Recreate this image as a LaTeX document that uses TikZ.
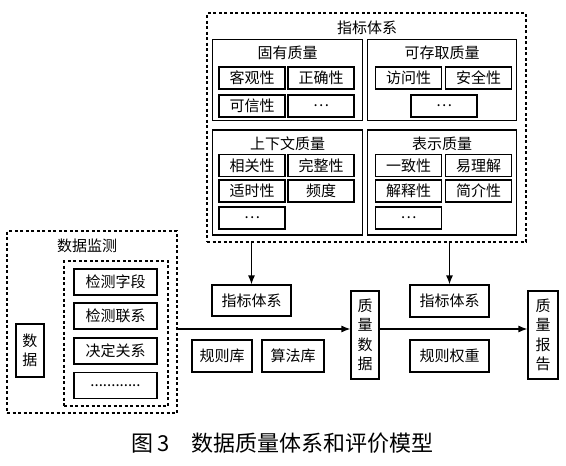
\documentclass[tikz,border=0pt]{standalone}
\usepackage{fontspec}
\setmainfont{Noto Sans CJK SC}
\usetikzlibrary{arrows.meta}

\begin{document}
\begin{tikzpicture}[x=1pt,y=-1pt]
    \tikzstyle{every node}=[font=\fontsize{15}{18}\selectfont, inner sep=0pt]
    \tikzstyle{leaf}=[draw, line width=1.4pt, minimum width=66pt, minimum height=22pt]
    \tikzstyle{group}=[draw, line width=1.1pt]
    \tikzstyle{frame}=[draw, line width=1.1pt, dash pattern=on 3pt off 2.5pt]
    \tikzstyle{block}=[draw, line width=1.2pt]
    \tikzstyle{vblock}=[draw, line width=1.2pt, align=center, font=\fontsize{15}{19.5}\selectfont]
    \tikzstyle{flow}=[line width=1.2pt, -{Latex[length=9pt,width=7pt]}]

    \useasboundingbox (0,0) rectangle (566,466);

    % Index system
    \node[frame, minimum width=319pt, minimum height=229pt] at (366.5,127.5) (Tix) {};
    \node at (367,28) (TixT) {指标体系};

    \node[group, minimum width=150pt, minimum height=81pt] at (287.7,79.7) (G1) {};
    \node[group, minimum width=149pt, minimum height=81pt] at (442.2,79.7) (G2) {};
    \node[group, minimum width=150pt, minimum height=105pt] at (287.7,182.5) (G3) {};
    \node[group, minimum width=149pt, minimum height=105pt] at (442.2,182.5) (G4) {};

    \node at (287.7,53) (G1T) {固有质量};
    \node at (442.2,53) (G2T) {可存取质量};
    \node at (287.7,144) (G3T) {上下文质量};
    \node at (442.2,144) (G4T) {表示质量};

    \node[leaf] at (252,78) (L11) {客观性};
    \node[leaf] at (321,78) (L12) {正确性};
    \node[leaf] at (252,106) (L13) {可信性};
    \node[leaf] at (321,106) (L14) {\dots};

    \node[leaf] at (408.5,78) (L21) {访问性};
    \node[leaf] at (478.5,78) (L22) {安全性};
    \node[leaf] at (444,106) (L23) {\dots};

    \node[leaf] at (252,165.5) (L31) {相关性};
    \node[leaf] at (321,165.5) (L32) {完整性};
    \node[leaf] at (252,191) (L33) {适时性};
    \node[leaf] at (321,191) (L34) {频度};
    \node[leaf] at (252,218) (L35) {\dots};

    \node[leaf] at (408.5,165.5) (L41) {一致性};
    \node[leaf] at (478.5,165.5) (L42) {易理解};
    \node[leaf] at (408.5,191) (L43) {解释性};
    \node[leaf] at (478.5,191) (L44) {简介性};
    \node[leaf] at (408.5,218) (L45) {\dots};

    % Data monitoring
    \node[frame, minimum width=170pt, minimum height=182pt] at (92,322) (Mon) {};
    \node at (87,246) (MonT) {数据监测};
    \node[frame, minimum width=104pt, minimum height=145pt] at (116,333.5) (MonIn) {};
    \node[leaf, minimum width=83pt, minimum height=26pt] at (115.5,282) (M1) {检测字段};
    \node[leaf, minimum width=83pt, minimum height=26pt] at (115.5,316) (M2) {检测联系};
    \node[leaf, minimum width=83pt, minimum height=26pt] at (115.5,351) (M3) {决定关系};
    \node[leaf, minimum width=83pt, minimum height=26pt] at (115.5,385.5) (M4) {............};
    \node[vblock, minimum width=28pt, minimum height=53pt] at (30,350.5) (Dat) {数\\据};

    % Evaluation
    \node[block, minimum width=79pt, minimum height=31pt] at (251.5,300.5) (Ib1) {指标体系};
    \node[block, minimum width=60pt, minimum height=32pt] at (222,356) (Rule) {规则库};
    \node[block, minimum width=62pt, minimum height=32pt] at (293,356) (Algo) {算法库};
    \node[vblock, minimum width=28pt, minimum height=88pt] at (365,335) (Qd) {质\\量\\数\\据};
    \node[block, minimum width=79pt, minimum height=32pt] at (449.5,301) (Ib2) {指标体系};
    \node[block, minimum width=79pt, minimum height=32pt] at (449.5,356) (Wt) {规则权重};
    \node[vblock, minimum width=30pt, minimum height=88pt] at (543,335) (Qr) {质\\量\\报\\告};

    \coordinate (Lane) at (0,329);

    \draw[flow] (Tix.south -| Ib1) -- (Ib1);
    \draw[flow] (Tix.south -| Ib2) -- (Ib2);
    \draw[flow] (Mon.east |- Lane) -- (Qd.west |- Lane);
    \draw[flow] (Qd.east |- Lane) -- (Qr.west |- Lane);

    % Caption
    \node[font=\fontsize{22}{26}\selectfont] at (282.5,443) (Cap) {图\,3\quad 数据质量体系和评价模型};

\end{tikzpicture}
\end{document}
